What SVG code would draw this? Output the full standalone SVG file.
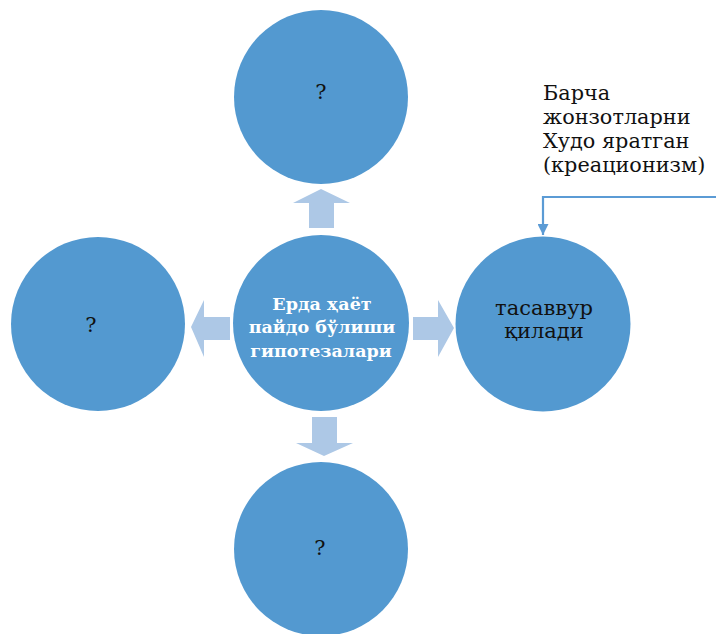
<svg xmlns="http://www.w3.org/2000/svg" width="716" height="634" viewBox="0 0 716 634">
<defs>
<style>
.c{fill:#5399d0}
.a{fill:#adc8e6}
.q{font-family:"DejaVu Serif","Liberation Serif",serif;font-size:21px;fill:#111;text-anchor:middle}
.w{font-family:"DejaVu Serif","Liberation Serif",serif;font-size:17.5px;font-weight:bold;fill:#fff;text-anchor:middle}
.d{font-family:"DejaVu Serif","Liberation Serif",serif;font-size:21px;fill:#111;text-anchor:middle}
.t{font-family:"DejaVu Serif","Liberation Serif",serif;font-size:20.8px;fill:#111}
.ln{fill:none;stroke:#5b9bd5;stroke-width:2.2}
</style>
<marker id="ah" viewBox="0 0 10 10" refX="10" refY="5" markerWidth="5" markerHeight="5" orient="auto" markerUnits="strokeWidth"><path d="M0,0 L10,5 L0,10 z" fill="#5b9bd5"/></marker>
</defs>
<rect width="716" height="634" fill="#fff"/>
<g id="connectors">
<polygon class="a" points="309,228 309,203 293,203 321,189 350,203 334,203 334,228"/>
<polygon class="a" points="413,317 438,317 438,300 454,328 438,357 438,340 413,340"/>
<polygon class="a" points="230,317 204,317 204,300 191,327 204,357 204,340 230,340"/>
<polygon class="a" points="312,417 337,417 337,443 353,443 324,456 296,443 312,443"/>
<path class="ln" d="M716,197 H543 V235" marker-end="url(#ah)"/>
</g>
<g id="top"><circle class="c" cx="321" cy="97" r="87"/><text class="q" x="321" y="99">?</text></g>
<g id="left"><circle class="c" cx="98" cy="324" r="87"/><text class="q" x="91" y="332">?</text></g>
<g id="bottom"><circle class="c" cx="321" cy="549" r="87"/><text class="q" x="320" y="555">?</text></g>
<g id="center"><circle class="c" cx="321" cy="323" r="88"/>
<text class="w" x="322" y="310">Ерда ҳаёт</text>
<text class="w" x="322" y="333">пайдо бўлиши</text>
<text class="w" x="321" y="357">гипотезалари</text></g>
<g id="right"><circle class="c" cx="543" cy="324" r="87.5"/>
<text class="d" x="544" y="315">тасаввур</text>
<text class="d" x="544" y="338">қилади</text></g>
<g id="note">
<text class="t" x="543" y="100">Барча</text>
<text class="t" x="543" y="124">жонзотларни</text>
<text class="t" x="543" y="148">Худо яратган</text>
<text class="t" x="543" y="172">(креационизм)</text>
</g>
</svg>
